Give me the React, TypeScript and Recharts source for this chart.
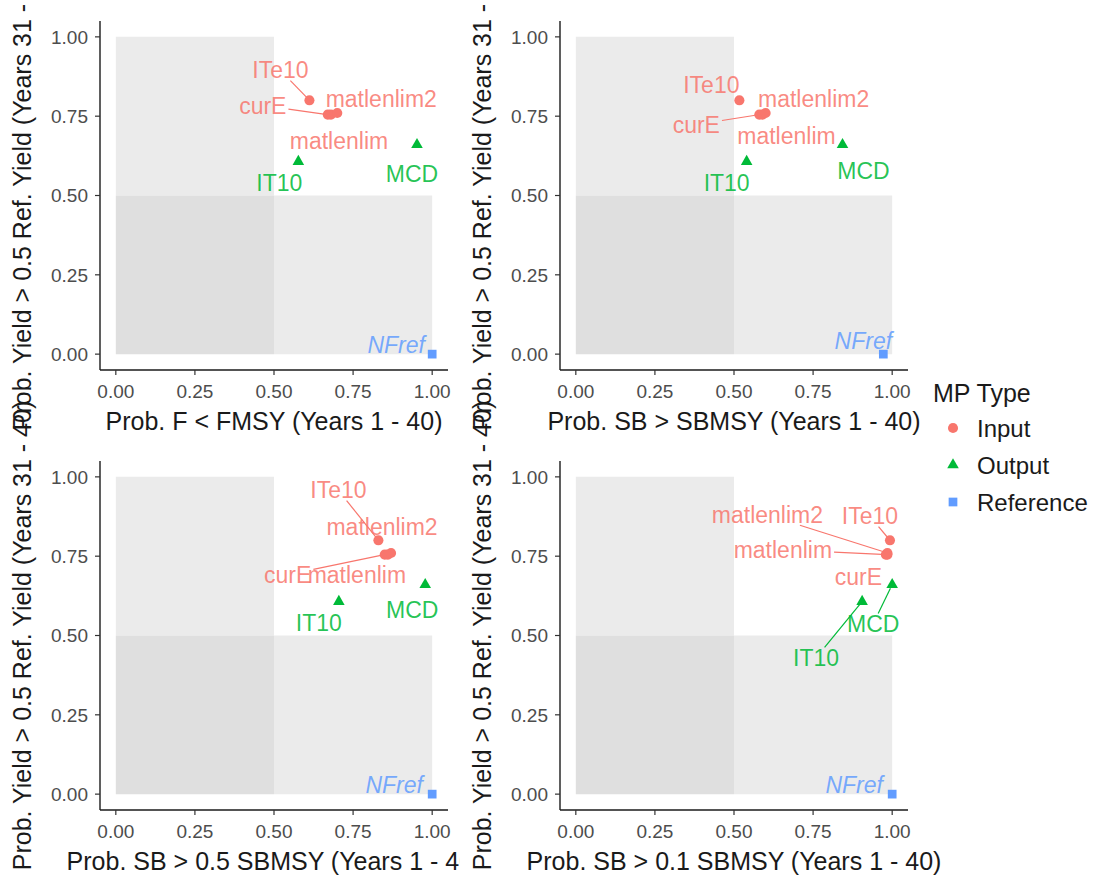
import React from 'react';
import { ScatterChart, Scatter, XAxis, YAxis, ReferenceArea, Symbols, Label } from 'recharts';

// ---------- data ----------
const mpNames = ['curE', 'ITe10', 'matlenlim', 'matlenlim2', 'IT10', 'MCD', 'NFref'];
const mpTypes = ['Input', 'Input', 'Input', 'Input', 'Output', 'Output', 'Reference'];
const probYield = [0.755, 0.8, 0.755, 0.76, 0.607, 0.66, 0.0];
const probF = [0.67, 0.612, 0.68, 0.7, 0.577, 0.952, 1.0];
const probSB = [0.58, 0.517, 0.59, 0.6, 0.54, 0.843, 0.972];
const probSB05 = [0.85, 0.83, 0.86, 0.87, 0.705, 0.978, 1.0];
const probSB01 = [0.985, 0.993, 0.98, 0.985, 0.905, 1.0, 1.0];
const axisTicks = [0, 0.25, 0.5, 0.75, 1];
const legendTypes = ['Input', 'Output', 'Reference'];
const xTitles = [
  'Prob. F < FMSY (Years 1 - 40)',
  'Prob. SB > SBMSY (Years 1 - 40)',
  'Prob. SB > 0.5 SBMSY (Years 1 - 40)',
  'Prob. SB > 0.1 SBMSY (Years 1 - 40)',
];
const yTitle = 'Prob. Yield > 0.5 Ref. Yield (Years 31 - 40)';

// ---------- layout / style ----------
const FONT = '"Liberation Sans", Arial, Helvetica, sans-serif';
const COLORS: Record<string, string> = { Input: '#F8766D', Output: '#00BA38', Reference: '#619CFF' };
const SHAPES: Record<string, any> = { Input: 'circle', Output: 'triangle', Reference: 'square' };
const SIZES: Record<string, number> = { Input: 80, Output: 58, Reference: 76 };
const LABEL_SIZE = 23;
const TITLE_SIZE = 25;

// label nudges (px) from each point: [dx, dy, drawSegment]
const nudges: Record<string, [number, number, boolean]>[] = [
  {
    ITe10: [-29, -30, true], curE: [-65, -9, true], matlenlim2: [44, -14, false],
    matlenlim: [8, 26, false], IT10: [-19, 21, false], MCD: [-5, 29, false], NFref: [-36, -9, false],
  },
  {
    ITe10: [-28, -15, false], curE: [-63, 10, true], matlenlim2: [48, -14, false],
    matlenlim: [24, 21, false], IT10: [-20, 21, false], MCD: [21, 26, false], NFref: [-20, -13, false],
  },
  {
    ITe10: [-40, -50, true], curE: [-97, 20, true], matlenlim2: [-9, -26, false],
    matlenlim: [-31, 20, false], IT10: [-20, 21, false], MCD: [-13, 25, false], NFref: [-38, -9, false],
  },
  {
    ITe10: [-20, -24, true], curE: [-29, 22, false], matlenlim2: [-120, -38, true],
    matlenlim: [-103, -5, true], IT10: [-46, 56, true], MCD: [-19, 39, true], NFref: [-38, -9, false],
  },
];

const panels = [
  { xs: probF, left: 0, top: 0, height: 440, bg: 'transparent' },
  { xs: probSB, left: 460, top: 0, height: 440, bg: 'transparent' },
  { xs: probSB05, left: 0, top: 440, height: 442, bg: 'transparent' },
  { xs: probSB01, left: 460, top: 440, height: 442, bg: '#FFFFFF' },
];

let measureCtx: CanvasRenderingContext2D | null = null;
function textWidth(s: string, size: number, italic: boolean) {
  if (!measureCtx) {
    const c = document.createElement('canvas');
    measureCtx = c.getContext('2d');
  }
  if (!measureCtx) return s.length * size * 0.55;
  measureCtx.font = `${italic ? 'italic ' : ''}${size}px ${FONT}`;
  return measureCtx.measureText(s).width;
}

const symbolShape = (t: string) => (p: any) => {
  if (p.cx == null || p.cy == null) return <g />;
  return <Symbols cx={p.cx} cy={p.cy} type={SHAPES[t]} size={SIZES[t]} fill={COLORS[t]} />;
};

function makeLabelShape(nd: Record<string, [number, number, boolean]>) {
  return (props: any) => {
    const { cx, cy, payload } = props;
    const n = payload && nd[payload.name];
    if (!n || cx == null || cy == null) return <g />;
    const [dx, dy, seg] = n;
    const lx = cx + dx;
    const ly = cy + dy;
    const italic = payload.type === 'Reference';
    const color = COLORS[payload.type];
    let line: any = null;
    if (seg) {
      const w = textWidth(payload.name, LABEL_SIZE, italic) + 4;
      const h = LABEL_SIZE * 0.72 + 4;
      const vx = cx - lx;
      const vy = cy - ly;
      const tx = vx !== 0 ? w / 2 / Math.abs(vx) : Infinity;
      const ty = vy !== 0 ? h / 2 / Math.abs(vy) : Infinity;
      const t = Math.min(tx, ty, 1);
      const sx = lx + vx * t;
      const sy = ly + vy * t;
      const len = Math.hypot(cx - sx, cy - sy);
      const gap = 4;
      if (len > gap) {
        const ex = cx - ((cx - sx) / len) * gap;
        const ey = cy - ((cy - sy) / len) * gap;
        line = <line x1={sx} y1={sy} x2={ex} y2={ey} stroke={color} strokeWidth={1.2} />;
      }
    }
    return (
      <g>
        {line}
        <text
          x={lx}
          y={ly}
          dy="0.355em"
          textAnchor="middle"
          fill={color}
          fillOpacity={0.85}
          fontSize={LABEL_SIZE}
          fontFamily={FONT}
          fontStyle={italic ? 'italic' : 'normal'}
        >
          {payload.name}
        </text>
      </g>
    );
  };
}

const XTitle = (text: string) => (props: any) => {
  const vb = props.viewBox || {};
  return (
    <text x={vb.x + vb.width / 2} y={vb.y + 60} textAnchor="middle" fill="#1A1A1A" fontSize={TITLE_SIZE} fontFamily={FONT}>
      {text}
    </text>
  );
};

const YTitle = (text: string) => (props: any) => {
  const vb = props.viewBox || {};
  const cx = vb.x + vb.width - 78;
  const cy = vb.y + vb.height / 2;
  return (
    <text
      x={cx}
      y={cy}
      dy="0.355em"
      textAnchor="middle"
      transform={`rotate(-90, ${cx}, ${cy})`}
      fill="#1A1A1A"
      fontSize={TITLE_SIZE}
      fontFamily={FONT}
    >
      {text}
    </text>
  );
};

function Panel({ idx }: { idx: number }) {
  const cfg = panels[idx];
  const data = mpNames.map((name, i) => ({ name, type: mpTypes[i], x: cfg.xs[i], y: probYield[i] }));
  const labelShape = makeLabelShape(nudges[idx]);
  const tickStyle = { fill: '#4D4D4D', fontSize: 19, fontFamily: FONT };
  return (
    <div style={{ position: 'absolute', left: cfg.left, top: cfg.top, width: 460, height: cfg.height, background: cfg.bg }}>
      <ScatterChart
        width={460}
        height={cfg.height}
        margin={{ top: 21, right: 12, bottom: cfg.height - 370 - 40, left: 40 }}
      >
        <XAxis
          dataKey="x"
          type="number"
          domain={[-0.05, 1.05]}
          allowDataOverflow
          ticks={axisTicks}
          tickFormatter={(v: number) => v.toFixed(2)}
          height={40}
          tickSize={5}
          tickMargin={10}
          tick={tickStyle}
          axisLine={{ stroke: '#1A1A1A', strokeWidth: 1.4 }}
          tickLine={{ stroke: '#333333', strokeWidth: 1.2 }}
        >
          <Label content={XTitle(xTitles[idx])} />
        </XAxis>
        <YAxis
          dataKey="y"
          type="number"
          domain={[-0.05, 1.05]}
          allowDataOverflow
          ticks={axisTicks}
          tickFormatter={(v: number) => v.toFixed(2)}
          width={60}
          tickSize={5}
          tickMargin={7}
          tick={tickStyle}
          axisLine={{ stroke: '#1A1A1A', strokeWidth: 1.4 }}
          tickLine={{ stroke: '#333333', strokeWidth: 1.2 }}
        >
          <Label content={YTitle(yTitle)} />
        </YAxis>
        <ReferenceArea x1={0} x2={0.5} y1={0.5} y2={1} fill="#EBEBEB" fillOpacity={1} stroke="none" />
        <ReferenceArea x1={0.5} x2={1} y1={0} y2={0.5} fill="#EBEBEB" fillOpacity={1} stroke="none" />
        <ReferenceArea x1={0} x2={0.5} y1={0} y2={0.5} fill="#DFDFDF" fillOpacity={1} stroke="none" />
        {legendTypes.map((t) => (
          <Scatter
            key={t}
            name={t}
            data={data.filter((d) => d.type === t)}
            fill={COLORS[t]}
            shape={symbolShape(t)}
            isAnimationActive={false}
          />
        ))}
        <Scatter name="labels" data={data} shape={labelShape} isAnimationActive={false} />
      </ScatterChart>
    </div>
  );
}

function LegendBox() {
  return (
    <svg
      width={177}
      height={160}
      style={{ position: 'absolute', left: 920, top: 370, overflow: 'visible' }}
    >
      <text x={13} y={32} fill="#1A1A1A" fontSize={25} fontFamily={FONT}>
        MP Type
      </text>
      {legendTypes.map((t, i) => {
        const cy = 58 + i * 37;
        return (
          <g key={t}>
            <Symbols cx={33} cy={cy} type={SHAPES[t]} size={SIZES[t]} fill={COLORS[t]} />
            <text x={57} y={cy} dy="0.355em" fill="#1A1A1A" fontSize={24} fontFamily={FONT}>
              {t}
            </text>
          </g>
        );
      })}
    </svg>
  );
}

export default function App() {
  return (
    <div style={{ position: 'absolute', left: 0, top: 0, width: 1097, height: 882, background: '#FFFFFF', overflow: 'hidden' }}>
      <style>{`.recharts-surface{overflow:visible !important;} .recharts-wrapper{overflow:visible !important;}`}</style>
      {panels.map((_, i) => (
        <Panel key={i} idx={i} />
      ))}
      <LegendBox />
    </div>
  );
}
